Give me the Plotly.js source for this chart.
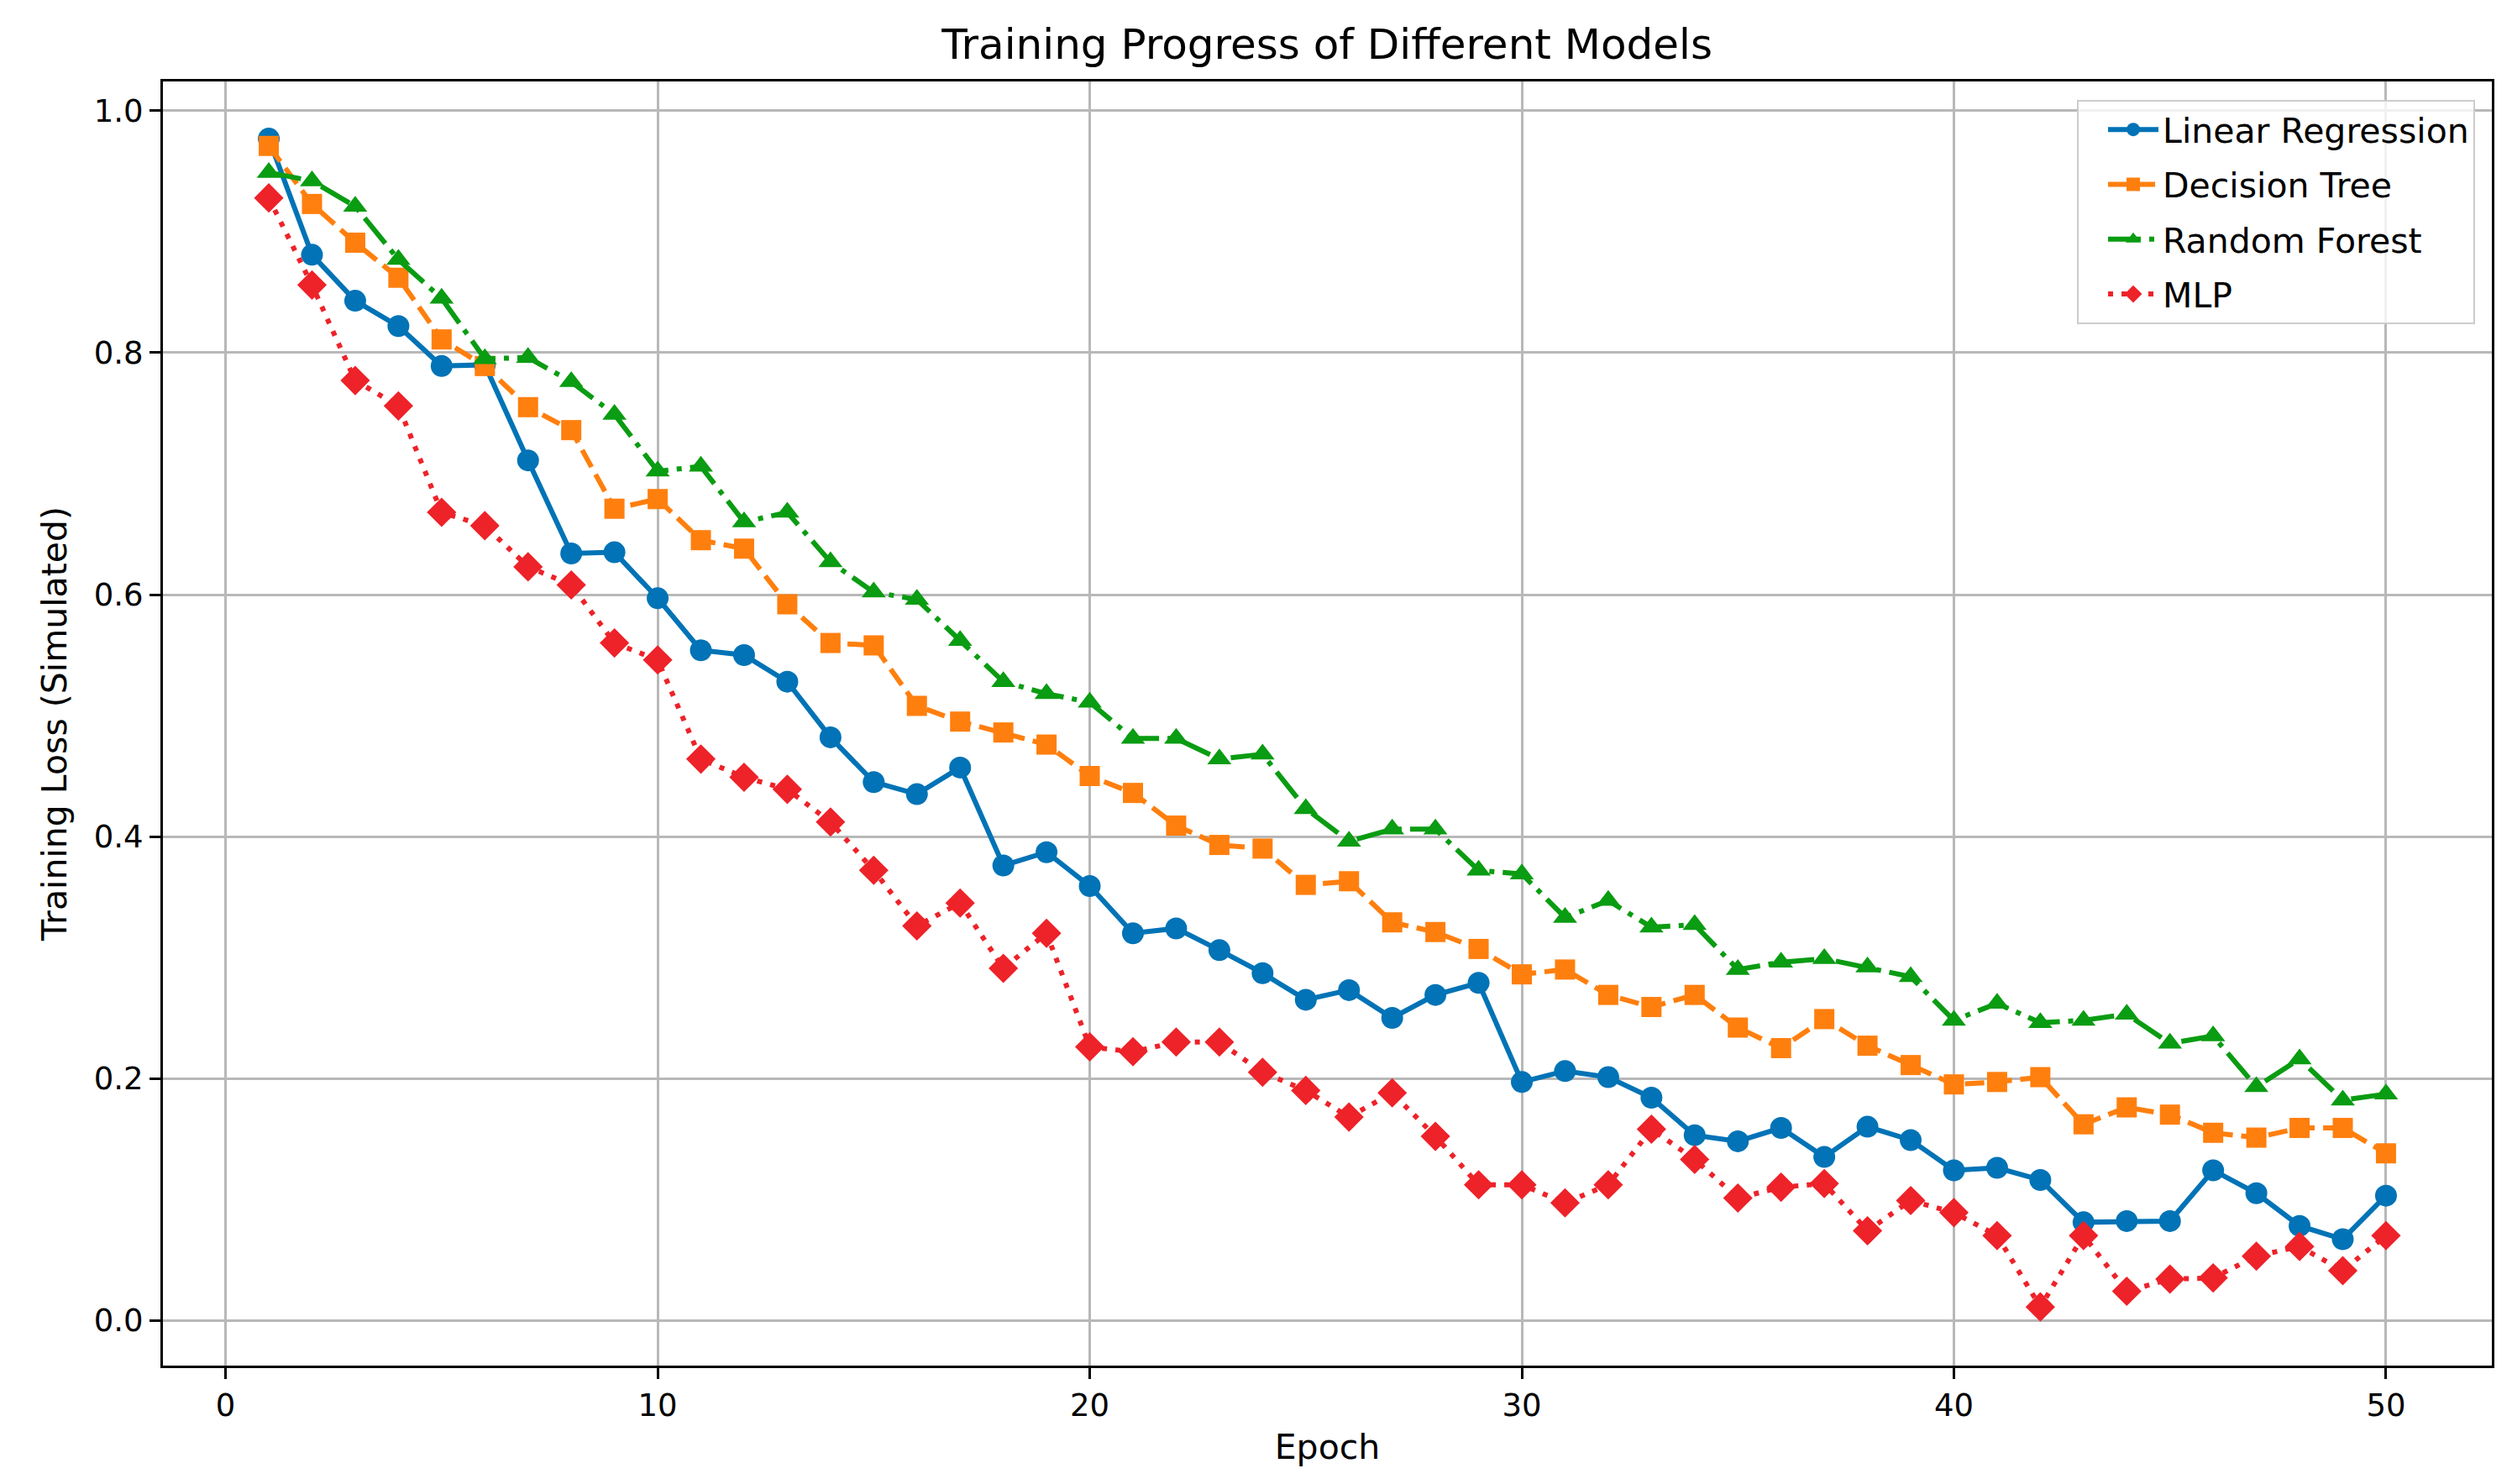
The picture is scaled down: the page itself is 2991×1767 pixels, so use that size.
<!DOCTYPE html>
<html>
<head>
<meta charset="utf-8">
<script src="https://cdn.plot.ly/plotly-3.0.1.min.js"></script>
<style>
html,body{margin:0;padding:0;background:#fff;}
#chart{width:2991px;height:1767px;}
</style>
</head>
<body>
<div id="chart"></div>
<script>
const epochs = Array.from({length: 50}, (_, i) => i + 1);
const seriesNames = ["Linear Regression", "Decision Tree", "Random Forest", "MLP"];
const linearRegression = [0.977,0.881,0.843,0.822,0.789,0.790,0.711,0.634,0.635,0.597,0.554,0.550,0.528,0.482,0.445,0.435,0.457,0.376,0.387,0.359,0.320,0.324,0.306,0.287,0.265,0.273,0.250,0.269,0.279,0.197,0.206,0.201,0.184,0.153,0.148,0.159,0.135,0.160,0.149,0.124,0.126,0.116,0.081,0.082,0.082,0.124,0.105,0.078,0.067,0.103];
const decisionTree = [0.971,0.923,0.891,0.862,0.811,0.789,0.755,0.736,0.671,0.679,0.645,0.638,0.592,0.560,0.558,0.508,0.495,0.486,0.476,0.450,0.436,0.409,0.393,0.390,0.360,0.363,0.329,0.321,0.307,0.286,0.290,0.269,0.259,0.269,0.242,0.225,0.249,0.227,0.211,0.195,0.197,0.201,0.162,0.176,0.170,0.155,0.151,0.159,0.159,0.138];
const randomForest = [0.949,0.942,0.921,0.877,0.845,0.795,0.796,0.776,0.749,0.702,0.706,0.660,0.668,0.627,0.602,0.596,0.562,0.528,0.518,0.511,0.481,0.481,0.464,0.468,0.423,0.396,0.406,0.406,0.372,0.369,0.333,0.347,0.325,0.327,0.290,0.296,0.299,0.292,0.284,0.248,0.262,0.246,0.248,0.253,0.229,0.235,0.193,0.216,0.182,0.187];
const mlp = [0.928,0.856,0.777,0.756,0.668,0.657,0.623,0.608,0.560,0.546,0.464,0.449,0.439,0.412,0.372,0.326,0.345,0.291,0.320,0.226,0.222,0.230,0.230,0.205,0.190,0.168,0.188,0.152,0.112,0.112,0.097,0.112,0.158,0.133,0.101,0.110,0.113,0.074,0.099,0.089,0.070,0.011,0.070,0.024,0.034,0.035,0.053,0.061,0.041,0.070];
const xTicks = [0, 10, 20, 30, 40, 50];
const yTicks = [0.0, 0.2, 0.4, 0.6, 0.8, 1.0];

const colors = ["#0173b6", "#ff7f0e", "#0a9c12", "#ee2229"];
const symbols = ["circle", "square", "triangle-up", "diamond"];
const sizes = [26, 24, 25, 27];
const dashes = ["solid", "23px,10px", "39px,10px,6px,10px", "6px,10px"];
const values = [linearRegression, decisionTree, randomForest, mlp];

const FONT = "DejaVu Sans, sans-serif";
const traces = values.map((v, i) => ({
  type: "scatter",
  mode: "lines+markers",
  x: epochs,
  y: v,
  name: seriesNames[i],
  legendgroup: "g" + i,
  line: {color: colors[i], width: 6, dash: dashes[i]},
  marker: {color: colors[i], symbol: symbols[i], size: sizes[i], line: {width: 0}}
}));

const axisCommon = {
  showline: true, linecolor: "#000", linewidth: 3, mirror: true,
  ticks: "outside", ticklen: 13, tickwidth: 3, tickcolor: "#000",
  showgrid: true, gridcolor: "#b8b8b8", gridwidth: 3,
  zeroline: false,
  tickfont: {family: FONT, size: 37, color: "#000"}
};

const layout = {
  width: 2991, height: 1767,
  paper_bgcolor: "#fff", plot_bgcolor: "#fff",
  margin: {l: 194, r: 24, t: 97, b: 141},
  font: {family: FONT, color: "#000"},
  title: {text: "Training Progress of Different Models", font: {family: FONT, size: 50, color: "#000"},
          x: 0.5283, xanchor: "center", xref: "container", y: 1 - 52/1767, yref: "container", yanchor: "middle"},
  xaxis: Object.assign({}, axisCommon, {
    range: [-1.45, 52.45], tickvals: xTicks, ticktext: xTicks.map(String),
    title: {text: "Epoch", font: {family: FONT, size: 41, color: "#000"}, standoff: 14}
  }),
  yaxis: Object.assign({}, axisCommon, {
    range: [-0.0375, 1.0243], tickvals: yTicks, ticktext: yTicks.map(t => t.toFixed(1)),
    title: {text: "Training Loss (Simulated)", font: {family: FONT, size: 41, color: "#000"}, standoff: 20}
  }),
  legend: {
    x: 0.9928, xanchor: "right", y: 0.9856, yanchor: "top",
    bgcolor: "rgba(255,255,255,0.8)", bordercolor: "#cccccc", borderwidth: 2,
    font: {family: FONT, size: 41, color: "#000"},
    itemwidth: 60, indentation: 30, tracegroupgap: 9, traceorder: "grouped"
  },
  showlegend: true
};

Plotly.newPlot("chart", traces, layout, {displayModeBar: false, staticPlot: true});
</script>
</body>
</html>
